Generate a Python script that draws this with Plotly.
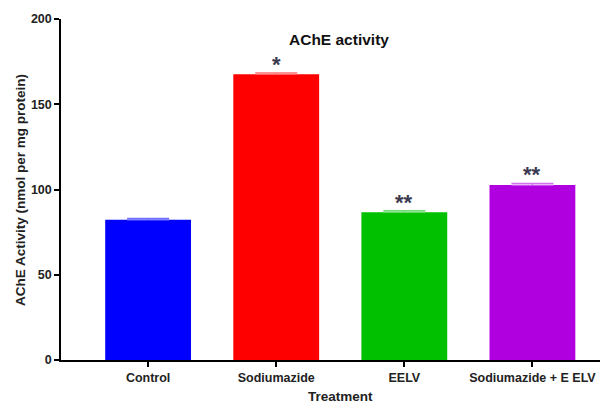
import plotly.graph_objects as go

categories = ["Control", "Sodiumazide", "EELV", "Sodiumazide + E ELV"]
values = [82.2, 167.6, 86.7, 102.6]
errors = [0.9, 0.8, 0.9, 1.0]
colors = ["#0000ff", "#ff0000", "#00c000", "#b000e0"]
err_colors = ["#6f6fff", "#ff7070", "#70dd70", "#d070f0"]
signif = ["", "*", "**", "**"]

font = "Liberation Sans"
fig = go.Figure()
for i, c in enumerate(categories):
    fig.add_trace(go.Bar(
        x=[c], y=[values[i]], marker=dict(color=colors[i], line=dict(width=0)),
        width=0.67,
        error_y=dict(type="data", array=[errors[i]], arrayminus=[0], symmetric=False,
                     color=err_colors[i], thickness=1.2, width=21),
        showlegend=False,
    ))
    if signif[i]:
        fig.add_annotation(x=c, y=values[i] + errors[i], text="<b>%s</b>" % signif[i], showarrow=False,
                           yanchor="bottom", yshift=-6,
                           font=dict(family=font, size=22, color="#3a3a50"))

# page has an 8px body margin; paper coords relative to the plot area
fig.add_annotation(xref="paper", yref="paper", x=(20 - 61) / 547, y=(360 - 190) / 341,
                   text="<b>AChE Activity (nmol per mg protein)</b>", textangle=-90,
                   showarrow=False, xanchor="center", yanchor="middle",
                   font=dict(family=font, size=13.5, color="#222"))
fig.add_annotation(xref="paper", yref="paper", x=(340 - 61) / 547, y=-(397 - 360) / 341,
                   text="<b>Treatment</b>", showarrow=False, xanchor="center", yanchor="middle",
                   font=dict(family=font, size=13.5, color="#222"))
fig.add_annotation(xref="paper", yref="paper", x=(339 - 61) / 547, y=(360 - 40) / 341,
                   text="<b>AChE activity</b>", showarrow=False, xanchor="center", yanchor="middle",
                   font=dict(family=font, size=15.5, color="#111"))

fig.update_layout(
    width=600, height=395,
    margin=dict(l=53, r=0, t=11, b=43, autoexpand=False),
    paper_bgcolor="white", plot_bgcolor="white",
    font=dict(family=font, color="#222"),
)
fig.update_xaxes(
    range=[-0.68, 3.59], showline=True, linecolor="#000", linewidth=1.5, automargin=False,
    ticks="outside", ticklen=5, tickcolor="#000", tickwidth=1.5,
    tickfont=dict(family=font, size=12.5, color="#222"),
    tickvals=categories, ticktext=["<b>%s</b>" % c for c in categories],
)
fig.update_yaxes(
    range=[0, 200], tickvals=[0, 50, 100, 150, 200], showgrid=False, zeroline=False,
    showline=True, linecolor="#000", linewidth=1.5, automargin=False,
    ticks="outside", ticklen=5, tickcolor="#000", tickwidth=1.5,
    tickfont=dict(family=font, size=12.5, color="#222"),
    ticktext=["<b>0</b>", "<b>50</b>", "<b>100</b>", "<b>150</b>", "<b>200</b>"],
)
fig.write_html("out.html")
